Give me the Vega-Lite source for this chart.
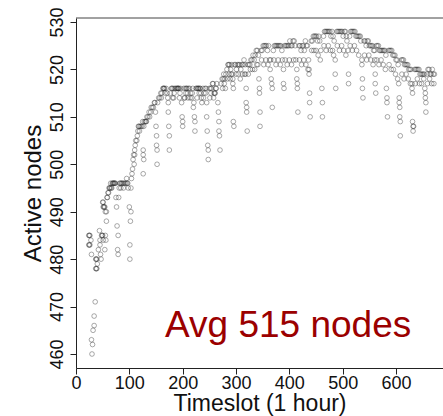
{
"$schema":"https://vega.github.io/schema/vega-lite/v6.json",
"width":367,"height":350,
"autosize":{"type":"none"},
"padding":{"left":76,"top":18,"right":0,"bottom":48},
"background":"white",
"config":{"view":{"stroke":null},"font":"Liberation Sans"},
"encoding":{
 "x":{"field":"t","type":"quantitative","scale":{"domain":[0,688.1],"nice":false,"zero":false},
  "axis":{"values":[0,100,200,300,400,500,600],"title":"Timeslot (1 hour)","grid":false,"domain":true,"domainColor":"#222","domainWidth":1,"tickColor":"#222","tickSize":6,"labelFontSize":18,"labelColor":"#111","labelPadding":0,"labelFlush":false,"titleFontSize":23,"titleFontWeight":"normal","titleColor":"#111","titlePadding":0}},
 "y":{"field":"v","type":"quantitative","scale":{"domain":[457.05,530.84],"nice":false,"zero":false},
  "axis":{"values":[460,470,480,490,500,510,520,530],"title":"Active nodes","grid":false,"domain":true,"domainColor":"#222","domainWidth":1,"tickColor":"#222","tickSize":6,"labelAngle":-90,"labelAlign":"center","labelBaseline":"alphabetic","labelPadding":8,"labelFontSize":18,"labelColor":"#111","labelFlush":false,"titleFontSize":24,"titleFontWeight":"normal","titleColor":"#111","titlePadding":3}}
},
"layer":[
{"data":{"values":[{"t":0,"v":530.84}]},"mark":{"type":"rule","color":"#444","strokeWidth":1},
 "encoding":{"x":{"datum":0},"x2":{"datum":688.1},"y":{"datum":530.84}}},
{"data":{"values":[
{"t":24,"v":485},{"t":25,"v":485},{"t":26,"v":485},{"t":24,"v":483},{"t":25,"v":483},{"t":26,"v":483},{"t":28,"v":484},{"t":29,"v":481},{"t":30,"v":460},{"t":31,"v":462},{"t":29,"v":463},{"t":32,"v":465},{"t":34,"v":466},{"t":34,"v":468},{"t":36,"v":471},{"t":37,"v":480},{"t":38,"v":480},{"t":39,"v":480},{"t":37,"v":478},{"t":38,"v":478},{"t":39,"v":478},{"t":40,"v":479},{"t":42,"v":482},{"t":44,"v":486},{"t":45,"v":484},{"t":45,"v":483},{"t":46,"v":481},{"t":47,"v":480},{"t":48,"v":485},{"t":49,"v":485},{"t":50,"v":485},{"t":51,"v":484},{"t":54,"v":482},{"t":55,"v":485},{"t":56,"v":484},{"t":57,"v":490},{"t":57,"v":488},{"t":50,"v":492},{"t":51,"v":492},{"t":51,"v":491},{"t":52,"v":491},{"t":53,"v":491},{"t":54,"v":491},{"t":55,"v":490},{"t":58,"v":493},{"t":59,"v":493},{"t":60,"v":494},{"t":61,"v":494},{"t":62,"v":495},{"t":63,"v":495},{"t":64,"v":495},{"t":65,"v":496},{"t":66,"v":495},{"t":67,"v":495},{"t":68,"v":496},{"t":69,"v":496},{"t":70,"v":496},{"t":71,"v":496},{"t":72,"v":496},{"t":73,"v":496},{"t":74,"v":496},{"t":75,"v":493},{"t":76,"v":491},{"t":77,"v":487},{"t":79,"v":485},{"t":78,"v":482},{"t":79,"v":481},{"t":80,"v":493},{"t":81,"v":495},{"t":82,"v":496},{"t":83,"v":496},{"t":84,"v":495},{"t":85,"v":496},{"t":86,"v":496},{"t":88,"v":496},{"t":89,"v":495},{"t":90,"v":496},{"t":92,"v":496},{"t":94,"v":496},{"t":95,"v":497},{"t":96,"v":496},{"t":97,"v":496},{"t":98,"v":495},{"t":100,"v":491},{"t":101,"v":483},{"t":101,"v":480},{"t":102,"v":488},{"t":103,"v":490},{"t":103,"v":495},{"t":104,"v":497},{"t":105,"v":498},{"t":106,"v":499},{"t":107,"v":501},{"t":108,"v":502},{"t":109,"v":500},{"t":110,"v":502},{"t":110,"v":503},{"t":111,"v":504},{"t":112,"v":505},{"t":114,"v":505},{"t":115,"v":506},{"t":116,"v":507},{"t":117,"v":508},{"t":118,"v":508},{"t":119,"v":507},{"t":120,"v":508},{"t":122,"v":508},{"t":124,"v":508},{"t":125,"v":509},{"t":126,"v":503},{"t":126,"v":502},{"t":127,"v":501},{"t":126,"v":498},{"t":127,"v":508},{"t":128,"v":509},{"t":130,"v":509},{"t":131,"v":509},{"t":132,"v":509},{"t":133,"v":510},{"t":135,"v":510},{"t":137,"v":511},{"t":138,"v":510},{"t":140,"v":511},{"t":141,"v":512},{"t":143,"v":512},{"t":145,"v":512},{"t":147,"v":513},{"t":148,"v":513},
{"t":149,"v":511},{"t":150,"v":508},{"t":151,"v":506},{"t":151,"v":504},{"t":152,"v":503},{"t":152,"v":500},
{"t":153,"v":513},{"t":155,"v":514},{"t":157,"v":514},{"t":159,"v":515},{"t":160,"v":514},{"t":161,"v":515},{"t":163,"v":516},{"t":164,"v":516},{"t":165,"v":516},{"t":166,"v":516},{"t":167,"v":515},{"t":169,"v":516},{"t":171,"v":515},{"t":172,"v":514},
{"t":173,"v":513},{"t":173,"v":511},{"t":174,"v":508},{"t":175,"v":506},{"t":175,"v":503},
{"t":177,"v":515},{"t":179,"v":516},{"t":180,"v":516},{"t":181,"v":514},{"t":182,"v":516},{"t":183,"v":514},{"t":184,"v":515},{"t":185,"v":516},{"t":187,"v":516},{"t":189,"v":516},{"t":190,"v":516},{"t":191,"v":516},{"t":192,"v":516},{"t":193,"v":516},{"t":194,"v":514},{"t":195,"v":515},{"t":196,"v":516},
{"t":198,"v":513},{"t":199,"v":510},{"t":200,"v":509},{"t":200,"v":508},
{"t":202,"v":516},{"t":203,"v":514},{"t":204,"v":514},{"t":205,"v":516},{"t":206,"v":515},{"t":207,"v":516},{"t":208,"v":516},{"t":209,"v":515},{"t":210,"v":514},{"t":211,"v":516},{"t":213,"v":516},{"t":214,"v":514},{"t":215,"v":515},{"t":217,"v":514},{"t":218,"v":515},{"t":219,"v":516},
{"t":220,"v":512},{"t":221,"v":513},{"t":222,"v":510},{"t":223,"v":509},{"t":223,"v":507},
{"t":225,"v":516},{"t":226,"v":516},{"t":227,"v":514},{"t":228,"v":516},{"t":229,"v":516},{"t":230,"v":516},{"t":231,"v":515},{"t":232,"v":516},{"t":233,"v":516},{"t":234,"v":515},{"t":235,"v":514},{"t":236,"v":513},{"t":238,"v":516},{"t":239,"v":514},{"t":240,"v":515},{"t":242,"v":516},{"t":243,"v":515},{"t":244,"v":516},
{"t":245,"v":513},{"t":245,"v":510},{"t":246,"v":507},{"t":247,"v":504},{"t":248,"v":503},{"t":248,"v":501},
{"t":250,"v":516},{"t":251,"v":514},{"t":252,"v":516},{"t":253,"v":515},{"t":254,"v":516},{"t":256,"v":517},{"t":257,"v":517},{"t":258,"v":514},{"t":259,"v":515},{"t":260,"v":515},{"t":261,"v":515},{"t":262,"v":516},{"t":263,"v":516},{"t":264,"v":517},
{"t":266,"v":513},{"t":267,"v":511},{"t":268,"v":509},{"t":268,"v":507},{"t":269,"v":506},{"t":270,"v":503},
{"t":272,"v":517},{"t":274,"v":518},{"t":275,"v":516},{"t":276,"v":518},{"t":277,"v":519},{"t":278,"v":517},{"t":279,"v":518},{"t":280,"v":516},{"t":281,"v":519},{"t":283,"v":520},{"t":284,"v":518},{"t":285,"v":521},{"t":286,"v":521},{"t":287,"v":519},{"t":288,"v":521},{"t":289,"v":518},{"t":290,"v":520},{"t":291,"v":519},{"t":292,"v":521},{"t":293,"v":519},
{"t":294,"v":518},{"t":294,"v":517},{"t":295,"v":516},{"t":295,"v":509},{"t":296,"v":508},
{"t":297,"v":521},{"t":299,"v":521},{"t":300,"v":519},{"t":301,"v":520},{"t":303,"v":521},{"t":304,"v":519},{"t":305,"v":521},{"t":307,"v":521},{"t":308,"v":518},{"t":309,"v":520},{"t":311,"v":521},{"t":312,"v":519},{"t":313,"v":521},{"t":315,"v":522},{"t":316,"v":519},{"t":317,"v":521},
{"t":318,"v":519},{"t":319,"v":516},{"t":319,"v":513},{"t":320,"v":512},{"t":320,"v":511},{"t":321,"v":507},
{"t":322,"v":521},{"t":323,"v":519},{"t":324,"v":521},{"t":326,"v":521},{"t":327,"v":520},{"t":328,"v":522},{"t":330,"v":522},{"t":331,"v":520},{"t":332,"v":523},{"t":334,"v":522},{"t":335,"v":520},{"t":336,"v":523},{"t":338,"v":524},{"t":339,"v":521},{"t":340,"v":524},{"t":341,"v":521},{"t":342,"v":523},
{"t":343,"v":518},{"t":344,"v":516},{"t":344,"v":515},{"t":345,"v":511},{"t":345,"v":508},
{"t":347,"v":524},{"t":348,"v":522},{"t":349,"v":524},{"t":351,"v":525},{"t":352,"v":521},{"t":353,"v":525},{"t":355,"v":525},{"t":356,"v":522},{"t":357,"v":525},{"t":359,"v":524},{"t":360,"v":521},{"t":361,"v":525},{"t":363,"v":522},{"t":364,"v":520},{"t":365,"v":522},
{"t":366,"v":518},{"t":367,"v":517},{"t":368,"v":516},{"t":368,"v":512},
{"t":370,"v":524},{"t":371,"v":522},{"t":372,"v":525},{"t":374,"v":525},{"t":375,"v":521},{"t":376,"v":525},{"t":378,"v":525},{"t":379,"v":522},{"t":380,"v":525},{"t":382,"v":525},{"t":383,"v":521},{"t":384,"v":525},{"t":386,"v":524},{"t":387,"v":522},
{"t":389,"v":520},{"t":389,"v":517},{"t":390,"v":516},
{"t":391,"v":525},{"t":392,"v":522},{"t":393,"v":525},{"t":395,"v":525},{"t":396,"v":521},{"t":397,"v":525},{"t":399,"v":525},{"t":400,"v":522},{"t":401,"v":526},{"t":403,"v":525},{"t":404,"v":521},{"t":405,"v":525},{"t":407,"v":526},{"t":408,"v":522},{"t":409,"v":526},{"t":411,"v":525},{"t":412,"v":522},
{"t":414,"v":520},{"t":414,"v":518},{"t":415,"v":517},{"t":415,"v":516},{"t":416,"v":511},
{"t":418,"v":525},{"t":419,"v":522},{"t":420,"v":525},{"t":422,"v":524},{"t":423,"v":521},{"t":424,"v":525},{"t":426,"v":525},{"t":427,"v":522},{"t":428,"v":524},{"t":430,"v":526},{"t":431,"v":521},{"t":432,"v":525},{"t":434,"v":525},{"t":435,"v":520},{"t":436,"v":522},
{"t":437,"v":520},{"t":437,"v":519},{"t":438,"v":515},{"t":438,"v":513},{"t":439,"v":510},
{"t":441,"v":526},{"t":442,"v":524},{"t":443,"v":526},{"t":445,"v":527},{"t":446,"v":524},{"t":447,"v":527},{"t":449,"v":527},{"t":450,"v":524},{"t":451,"v":527},{"t":453,"v":526},{"t":454,"v":523},{"t":455,"v":527},{"t":457,"v":526},{"t":458,"v":522},{"t":459,"v":524},
{"t":461,"v":516},{"t":462,"v":513},{"t":462,"v":510},
{"t":464,"v":527},{"t":465,"v":525},{"t":466,"v":528},{"t":468,"v":528},{"t":469,"v":524},{"t":470,"v":528},{"t":472,"v":528},{"t":473,"v":525},{"t":474,"v":528},{"t":476,"v":528},{"t":477,"v":524},{"t":478,"v":527},{"t":480,"v":528},{"t":481,"v":524},{"t":482,"v":527},{"t":483,"v":523},{"t":484,"v":526},
{"t":486,"v":522},{"t":486,"v":519},{"t":487,"v":516},
{"t":489,"v":528},{"t":490,"v":525},{"t":491,"v":528},{"t":493,"v":528},{"t":494,"v":524},{"t":495,"v":528},{"t":497,"v":528},{"t":498,"v":525},{"t":499,"v":528},{"t":501,"v":527},{"t":502,"v":524},{"t":503,"v":528},{"t":505,"v":528},{"t":506,"v":523},{"t":507,"v":527},{"t":508,"v":526},
{"t":510,"v":524},{"t":511,"v":519},{"t":511,"v":517},
{"t":513,"v":527},{"t":514,"v":525},{"t":515,"v":528},{"t":517,"v":528},{"t":518,"v":524},{"t":519,"v":528},{"t":521,"v":528},{"t":522,"v":525},{"t":523,"v":528},{"t":525,"v":527},{"t":526,"v":524},{"t":527,"v":527},{"t":529,"v":527},{"t":530,"v":523},{"t":531,"v":527},{"t":533,"v":527},{"t":534,"v":526},
{"t":536,"v":522},{"t":536,"v":521},{"t":537,"v":518},{"t":537,"v":516},{"t":538,"v":514},
{"t":540,"v":526},{"t":541,"v":523},{"t":542,"v":526},{"t":544,"v":525},{"t":545,"v":522},{"t":546,"v":526},{"t":548,"v":526},{"t":549,"v":523},{"t":550,"v":525},{"t":552,"v":525},{"t":553,"v":522},{"t":554,"v":525},{"t":556,"v":525},{"t":557,"v":521},{"t":558,"v":524},
{"t":560,"v":524},{"t":560,"v":522},{"t":561,"v":519},{"t":561,"v":517},{"t":562,"v":515},
{"t":563,"v":525},{"t":564,"v":522},{"t":565,"v":525},{"t":567,"v":525},{"t":568,"v":521},{"t":569,"v":524},{"t":571,"v":524},{"t":572,"v":522},{"t":573,"v":524},{"t":575,"v":524},{"t":576,"v":521},{"t":577,"v":524},{"t":579,"v":524},{"t":580,"v":520},{"t":581,"v":523},
{"t":582,"v":516},{"t":583,"v":514},{"t":583,"v":513},{"t":584,"v":510},
{"t":586,"v":524},{"t":587,"v":521},{"t":588,"v":524},{"t":590,"v":524},{"t":591,"v":520},{"t":592,"v":524},{"t":594,"v":523},{"t":595,"v":520},{"t":596,"v":523},{"t":598,"v":523},{"t":599,"v":519},{"t":600,"v":522},{"t":602,"v":522},{"t":603,"v":518},{"t":604,"v":521},
{"t":605,"v":517},{"t":606,"v":514},{"t":606,"v":513},{"t":607,"v":512},{"t":607,"v":510},{"t":608,"v":509},{"t":608,"v":506},
{"t":610,"v":522},{"t":611,"v":519},{"t":612,"v":522},{"t":614,"v":522},{"t":615,"v":518},{"t":616,"v":521},{"t":618,"v":521},{"t":619,"v":519},{"t":620,"v":521},{"t":622,"v":521},{"t":623,"v":518},{"t":624,"v":520},{"t":626,"v":520},{"t":627,"v":517},{"t":628,"v":520},
{"t":630,"v":517},{"t":630,"v":516},{"t":631,"v":515},{"t":631,"v":509},{"t":632,"v":508},{"t":632,"v":507},{"t":633,"v":508},
{"t":635,"v":520},{"t":636,"v":517},{"t":637,"v":520},{"t":639,"v":520},{"t":640,"v":518},{"t":641,"v":520},{"t":643,"v":520},{"t":644,"v":517},{"t":645,"v":519},{"t":647,"v":519},{"t":648,"v":517},{"t":649,"v":519},{"t":651,"v":519},{"t":652,"v":518},{"t":653,"v":519},
{"t":654,"v":516},{"t":655,"v":515},{"t":655,"v":514},{"t":656,"v":513},{"t":656,"v":511},
{"t":658,"v":519},{"t":659,"v":517},{"t":660,"v":520},{"t":662,"v":520},{"t":663,"v":518},{"t":664,"v":519},{"t":666,"v":519},{"t":667,"v":517},{"t":668,"v":520},{"t":670,"v":519},{"t":671,"v":517},{"t":672,"v":519}
]},
 "mark":{"type":"point","shape":"circle","filled":false,"size":22,"stroke":"#222","strokeOpacity":0.55,"strokeWidth":1}},
{"data":{"values":[{"label":"Avg 515 nodes","t":167,"v":463.6}]},
 "mark":{"type":"text","align":"left","baseline":"alphabetic","fontSize":37,"color":"#9b0000","font":"Liberation Sans"},
 "encoding":{"text":{"field":"label"}}}
]
}
